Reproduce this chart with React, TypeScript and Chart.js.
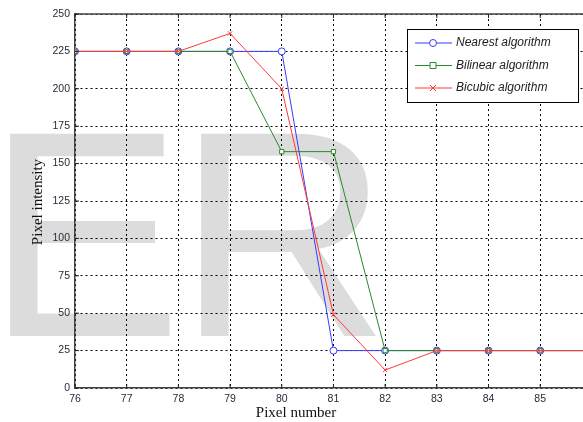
import React, { useEffect, useRef } from 'react';
import { Chart, registerables } from 'chart.js';

Chart.register(...registerables);

const pixelNumbers = [76, 77, 78, 79, 80, 81, 82, 83, 84, 85, 86];
const nearestValues = [225, 225, 225, 225, 225, 25, 25, 25, 25, 25, 25];
const bilinearValues = [225, 225, 225, 225, 158, 158, 25, 25, 25, 25, 25];
const bicubicValues = [225, 225, 225, 237, 200, 49, 12, 25, 25, 25, 25];
const seriesNames = ['Nearest algorithm', 'Bilinear algorithm', 'Bicubic algorithm'];
const seriesColors = ['#3a3aff', '#2a8a2a', '#ff3a3a'];
const seriesMarkers = ['circle', 'rect', 'crossRot'];
const xAxisTitle = 'Pixel number';
const yAxisTitle = 'Pixel intensity';
const watermarkText = 'ER';

const toPoints = (vals: number[]) => vals.map((v, i) => ({ x: pixelNumbers[i], y: v }));

function drawMarker(ctx: CanvasRenderingContext2D, style: string, x: number, y: number, r: number, color: string) {
  ctx.save();
  ctx.strokeStyle = color;
  ctx.fillStyle = '#fff';
  ctx.lineWidth = 1;
  ctx.beginPath();
  if (style === 'circle') {
    ctx.arc(x, y, r, 0, Math.PI * 2);
    ctx.fill();
    ctx.stroke();
  } else if (style === 'rect') {
    ctx.rect(x - r, y - r, r * 2, r * 2);
    ctx.fill();
    ctx.stroke();
  } else {
    ctx.moveTo(x - r, y - r);
    ctx.lineTo(x + r, y + r);
    ctx.moveTo(x + r, y - r);
    ctx.lineTo(x - r, y + r);
    ctx.stroke();
  }
  ctx.restore();
}

const decorPlugin = {
  id: 'decor',
  beforeDraw(chart: any) {
    const ctx = chart.ctx as CanvasRenderingContext2D;
    ctx.save();
    ctx.fillStyle = '#fff';
    ctx.fillRect(0, 0, chart.width, chart.height);
    ctx.fillStyle = '#dcdcdc';
    ctx.font = '294px "Liberation Sans", Arial, sans-serif';
    (ctx as any).letterSpacing = '-5px';
    ctx.textBaseline = 'alphabetic';
    ctx.textAlign = 'left';
    ctx.fillText(watermarkText, -14, 336);
    ctx.restore();
  },
  afterDraw(chart: any) {
    const ctx = chart.ctx as CanvasRenderingContext2D;
    const a = chart.chartArea;
    const xs = chart.scales.x;
    const ys = chart.scales.y;
    ctx.save();
    // top border
    ctx.strokeStyle = '#444';
    ctx.lineWidth = 1.5;
    ctx.beginPath();
    ctx.moveTo(a.left, a.top);
    ctx.lineTo(a.right, a.top);
    ctx.stroke();
    // inner ticks
    ctx.lineWidth = 1;
    ctx.strokeStyle = '#222';
    ctx.beginPath();
    xs.ticks.forEach((t: any) => {
      const px = xs.getPixelForValue(t.value);
      ctx.moveTo(px, a.bottom);
      ctx.lineTo(px, a.bottom - 4);
      ctx.moveTo(px, a.top);
      ctx.lineTo(px, a.top + 4);
    });
    ys.ticks.forEach((t: any) => {
      const py = ys.getPixelForValue(t.value);
      ctx.moveTo(a.left, py);
      ctx.lineTo(a.left + 4, py);
    });
    ctx.stroke();
    // axis titles
    ctx.fillStyle = '#111';
    ctx.font = '15px "Liberation Serif", "Times New Roman", serif';
    ctx.textAlign = 'center';
    ctx.textBaseline = 'middle';
    ctx.fillText(xAxisTitle, 296, 413);
    ctx.translate(38, 202);
    ctx.rotate(-Math.PI / 2);
    ctx.fillText(yAxisTitle, 0, 0);
    ctx.restore();

    // legend
    ctx.save();
    const bx = 407.5, by = 29.5, bw = 171, bh = 73;
    ctx.fillStyle = '#fff';
    ctx.fillRect(bx, by, bw, bh);
    ctx.strokeStyle = '#000';
    ctx.lineWidth = 1;
    ctx.strokeRect(bx, by, bw, bh);
    const rows = [43, 65.5, 88];
    seriesNames.forEach((name, i) => {
      const y = rows[i];
      ctx.strokeStyle = seriesColors[i];
      ctx.lineWidth = 1;
      ctx.beginPath();
      ctx.moveTo(415, y);
      ctx.lineTo(452, y);
      ctx.stroke();
      drawMarker(ctx, seriesMarkers[i], 433, y, i === 0 ? 3.5 : 3, seriesColors[i]);
      ctx.fillStyle = '#222';
      ctx.font = 'italic 12px "Liberation Sans", Arial, sans-serif';
      ctx.textAlign = 'left';
      ctx.textBaseline = 'middle';
      ctx.fillText(name, 456, y);
    });
    ctx.restore();
  },
};

export default function App() {
  const ref = useRef<HTMLCanvasElement | null>(null);
  useEffect(() => {
    if (!ref.current) return;
    const values = [nearestValues, bilinearValues, bicubicValues];
    const chart = new Chart(ref.current, {
      type: 'line',
      data: {
        datasets: seriesNames.map((name, i) => ({
          label: name,
          data: toPoints(values[i]),
          borderColor: seriesColors[i],
          backgroundColor: '#fff',
          pointBorderColor: seriesColors[i],
          pointBackgroundColor: '#fff',
          pointStyle: seriesMarkers[i] as any,
          pointRadius: i === 0 ? 3.5 : 3,
          pointBorderWidth: 1,
          borderWidth: 1,
          tension: 0,
          order: 3 - i,
        })),
      },
      options: {
        animation: false,
        responsive: false,
        layout: { padding: { top: 14, right: 0, left: 0, bottom: 0 } },
        plugins: { legend: { display: false }, tooltip: { enabled: false } },
        scales: {
          x: {
            type: 'linear',
            min: 76,
            max: 86.06,
            afterFit: (s: any) => { s.height = 34; },
            afterBuildTicks: (s: any) => {
              s.ticks = pixelNumbers.filter((v) => v <= 85).map((v) => ({ value: v }));
            },
            ticks: {
              stepSize: 1,
              padding: 5,
              color: '#2a2a3a',
              font: { family: '"Liberation Sans", Arial, sans-serif', size: 10.5 },
              maxRotation: 0,
            },
            grid: { color: '#000', lineWidth: 1, drawTicks: false },
            border: { display: true, color: '#444', width: 1.5, dash: [2, 3] },
          },
          y: {
            min: 0,
            max: 250,
            afterFit: (s: any) => { s.width = 75; },
            ticks: {
              stepSize: 25,
              padding: 5,
              color: '#2a2a3a',
              font: { family: '"Liberation Sans", Arial, sans-serif', size: 10.5 },
            },
            grid: { color: '#000', lineWidth: 1, drawTicks: false },
            border: { display: true, color: '#444', width: 1.5, dash: [2, 3] },
          },
        },
      },
      plugins: [decorPlugin],
    } as any);
    return () => chart.destroy();
  }, []);
  return (
    <div style={{ position: 'fixed', left: 0, top: 0, width: 583, height: 422, overflow: 'hidden' }}>
      <canvas ref={ref} width={600} height={422} style={{ display: 'block' }} />
    </div>
  );
}
